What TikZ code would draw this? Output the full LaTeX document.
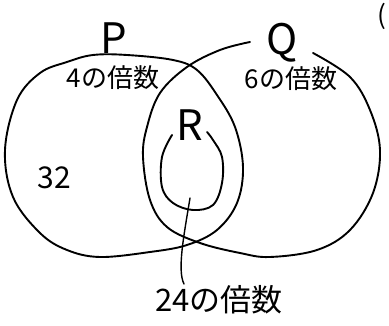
\documentclass[tikz,border=0pt]{standalone}
\usepackage{fontspec}
\newfontfamily\jp{Noto Sans CJK JP}
\begin{document}
\begin{tikzpicture}[x=1pt,y=-1pt,
  curve/.style={draw=black, line width=1.9pt, line cap=round, line join=round},
  lbl/.style={font=\jp\fontsize{26}{26}\selectfont, inner sep=0pt},
  setname/.style={font=\jp\fontsize{42}{42}\selectfont, inner sep=0pt}]
\useasboundingbox (0,0) rectangle (389,326);
% set P
\draw[curve] plot[smooth cycle, tension=0.6] coordinates {
  (100,257) (67,250) (40,233) (13,197) (5,150) (17,100) (40,73) (67,62)
  (93,55) (127,55) (173,60) (197,70) (217,95) (235,127) (243,167)
  (237,203) (217,230) (187,245) (150,252)};
% set Q (open at the top where its letter sits)
\draw[curve] plot[smooth, tension=0.6] coordinates {
  (313,53) (350,77) (370,110) (380,150) (373,193) (350,230) (317,250)
  (270,257) (240,253) (200,243) (167,227) (150,200) (143,157) (147,127)
  (160,93) (187,67) (220,50) (250,42)};
% set R (open loop)
\draw[curve] plot[smooth, tension=0.6] coordinates {
  (172,135) (162,157) (162,187) (173,203) (193,210) (213,205) (222,183)
  (222,157) (213,140) (207,132)};
% labels
\node[setname] (p) at (114,38) {P};
\node[setname] (q) at (282,43) {Q};
\node[setname] (r) at (190,125) {R};
\node[lbl] (m4) at (113,78) {4の倍数};
\node[lbl] (m6) at (291,79) {6の倍数};
\node[lbl, font=\jp\fontsize{30}{30}\selectfont] (n32) at (54,178) {32};
\node[lbl, font=\jp\fontsize{31}{31}\selectfont] (m24) at (219,300) {24の倍数};
\node[lbl] (paren) at (382,16) {(};
% connector from inside R to its label
\coordinate (rin) at (190,198);
\coordinate (tail) at (184,284);
\draw[curve, line width=1.4pt] (rin) .. controls (184,235) and (177,270) .. (tail);
\end{tikzpicture}
\end{document}
